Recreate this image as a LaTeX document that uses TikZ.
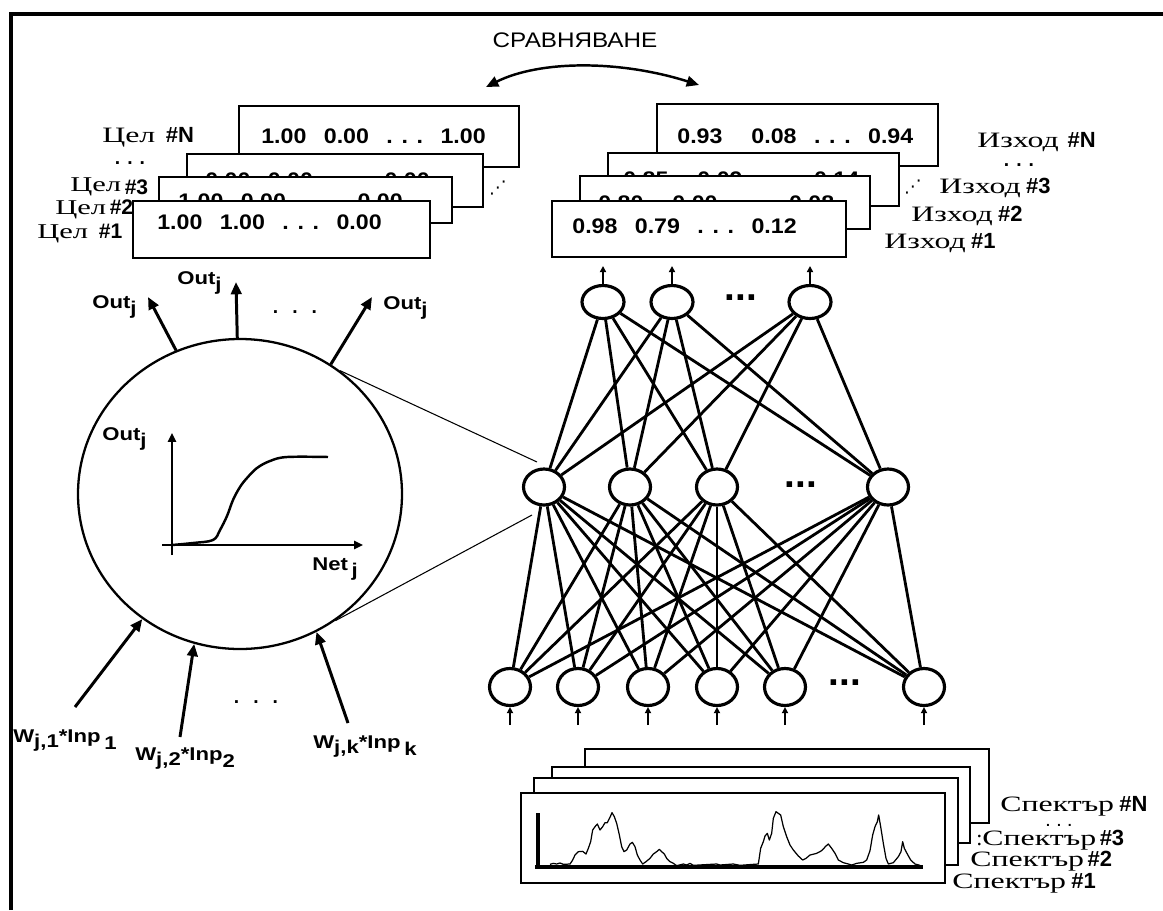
\documentclass[tikz,border=0pt]{standalone}
\usepackage{fontspec}
\usepackage{graphicx}
\setmainfont{Liberation Serif}
\setsansfont{Liberation Sans}
\newfontfamily\symfont{DejaVu Sans}
\usetikzlibrary{arrows.meta,shapes.geometric}

% serif label words, drawn wide
\newcommand\ser[1]{\scalebox{1.45}[1]{\rmfamily #1}}
% bold "#n" tag after a label word
\newcommand\hsh[1]{{\sffamily\bfseries\##1}}
% a row of values: first, second, dots, last
\newcommand\nums[4][9pt]{\scalebox{1.1}[1]{#2\hspace{#1}#3\hspace{9pt}.\hspace{4.5pt}.\hspace{4.5pt}.\hspace{9pt}#4}}
\newcommand\wide[2]{\scalebox{#1}[1]{#2}}
% white box given by its corners (x1,y1) (x2,y2) in pixel units
\newcommand\pbox[5]{\node[box, minimum width={(#4-#2)*0.02cm}, minimum height={(#5-#3)*0.02cm}] (#1) at ({(#2+#4)/2},{(#3+#5)/2}) {};}

\begin{document}
\begin{tikzpicture}[x=0.02cm,y=-0.02cm,
  box/.style={draw, fill=white, line width=1.3pt, rectangle, inner sep=0pt},
  num/.style={anchor=base west, inner sep=0pt, font=\sffamily\bfseries\fontsize{12}{14}\selectfont},
  lbl/.style={anchor=base west, inner sep=0pt, font=\fontsize{12.5}{14}\selectfont},
  slbl/.style={anchor=base west, inner sep=0pt, font=\fontsize{12}{13}\selectfont},
  outl/.style={anchor=base west, inner sep=0pt, font=\sffamily\bfseries\fontsize{10.5}{12}\selectfont},
  dots/.style={inner sep=0pt, font=\sffamily\bfseries\fontsize{11}{12}\selectfont},
  sdots/.style={inner sep=0pt, font=\sffamily\bfseries\fontsize{8}{9}\selectfont},
  bigdots/.style={inner sep=0pt, font=\sffamily\bfseries\fontsize{22}{24}\selectfont},
  unit/.style={ellipse, draw, fill=white, line width=1.8pt, inner sep=0pt,
               minimum width=0.82cm, minimum height=0.72cm},
  link/.style={line width=1.6pt},
  bigarrow/.style={line width=1.7pt, -{Triangle[length=7pt,width=6pt]}},
  tinyarrow/.style={line width=0.9pt, -{Triangle[length=3.5pt,width=3.5pt]}},
  axis/.style={line width=1.2pt, -{Triangle[length=5pt,width=4.5pt]}},
]
\useasboundingbox (0,0) rectangle (1163,910);

% frame
\draw[line width=2.3pt] (11,910) -- (11,14) -- (1163,14);

% comparison of targets and outputs
\node[anchor=base, inner sep=0pt] (title) at (575,47)
  {\wide{1.15}{\sffamily\fontsize{12}{14}\selectfont СРАВНЯВАНЕ}};
\coordinate (cmpL) at (486,87);
\coordinate (cmpR) at (699,85);
\draw[line width=1.4pt, {Triangle[length=7pt,width=6pt]}-{Triangle[length=7pt,width=6pt]}]
  (cmpL) .. controls (540,60) and (620,60) .. (cmpR);

% target vectors
\pbox{tgtN}{239}{106}{519}{167}
\node[num] at (261,143) {\nums{1.00}{0.00}{1.00}};
\pbox{tgt3}{187}{154}{483}{207}
\node[num] at (205,187) {\nums{0.00}{0.00}{0.00}};
\pbox{tgt2}{159}{177}{452}{223}
\node[num] at (178,208) {\nums{1.00}{0.00}{0.00}};
\pbox{tgt1}{133}{201}{430}{258}
\node[num] at (157,229) {\nums{1.00}{1.00}{0.00}};
\node[inner sep=0pt, font=\symfont\fontsize{10}{12}\selectfont] (tgtdd) at (498,188) {⋰};

\node[lbl] (ltN) at (102,142) {\ser{Цел}\hspace{6pt}\hsh{N}};
\node[dots] (ltd) at (130,163) {.\hspace{4pt}.\hspace{4pt}.};
\node[slbl] (lt3) at (70,191) {\ser{Цел}\hspace{2pt}\raisebox{-2pt}{\hsh{3}}};
\node[slbl] (lt2) at (55,214) {\ser{Цел}\hspace{2pt}\hsh{2}};
\node[slbl] (lt1) at (37,238) {\ser{Цел}\hspace{6pt}\hsh{1}};

% output vectors
\pbox{outN}{657}{104}{938}{166}
\node[num] at (677,143) {\nums[15pt]{0.93}{0.08}{0.94}};
\pbox{out3}{608}{153}{899}{206}
\node[num] at (623,186) {\nums[15pt]{0.85}{0.09}{0.14}};
\pbox{out2}{580}{176}{870}{229}
\node[num] at (598,210) {\nums[15pt]{0.80}{0.00}{0.08}};
\pbox{out1}{552}{201}{846}{257}
\node[num] at (572,233) {\nums{0.98}{0.79}{0.12}};
\node[inner sep=0pt, font=\symfont\fontsize{10}{12}\selectfont] (outdd) at (913,187) {⋰};

\node[lbl] (loN) at (977,147) {\ser{Изход}\hspace{5pt}\hsh{N}};
\node[dots] (lod) at (1019,165) {.\hspace{4pt}.\hspace{4pt}.};
\node[lbl] (lo3) at (939,193) {\ser{Изход}\hspace{3pt}\hsh{3}};
\node[lbl] (lo2) at (911,221) {\ser{Изход}\hspace{3pt}\hsh{2}};
\node[lbl] (lo1) at (884,248) {\ser{Изход}\hspace{3pt}\hsh{1}};

% single neuron
\node[ellipse, draw, line width=1.3pt, inner sep=0pt,
      minimum width=324*0.02cm, minimum height=310*0.02cm] (neuron) at (240,494) {};

\coordinate (outA) at (148,297);
\coordinate (outB) at (236,282);
\coordinate (outC) at (372,297);
\draw[bigarrow] (neuron.114) -- (outA);
\draw[bigarrow] (neuron.91.5) -- (outB);
\draw[bigarrow] (neuron.55.5) -- (outC);
\node[outl] (oA) at (92,308) {\wide{1.2}{Out\raisebox{-3.5pt}{j}}};
\node[outl] (oB) at (177,284) {\wide{1.2}{Out\raisebox{-3.5pt}{j}}};
\node[outl] (oC) at (383,309) {\wide{1.2}{Out\raisebox{-3.5pt}{j}}};
\node[dots] (odots) at (295,312) {.\hspace{8pt}.\hspace{8pt}.};

\coordinate (inA) at (75,707);
\coordinate (inB) at (180,737);
\coordinate (inC) at (348,723);
\draw[bigarrow] (inA) -- (neuron.232.5);
\draw[bigarrow] (inB) -- (neuron.253);
\draw[bigarrow] (inC) -- (neuron.299);
\node[outl] (wA) at (13,742) {\wide{1.2}{W\raisebox{-3pt}{j,1}*Inp\,\raisebox{-4pt}{1}}};
\node[outl] (wB) at (135,760) {\wide{1.2}{W\raisebox{-3pt}{j,2}*Inp\raisebox{-4pt}{2}}};
\node[outl] (wC) at (313,748) {\wide{1.2}{W\raisebox{-3pt}{j,k}*Inp\,\raisebox{-4pt}{k}}};
\node[dots] (idots) at (256,702) {.\hspace{8pt}.\hspace{8pt}.};

% transfer function inside the neuron
\coordinate (yB) at (172,555);
\coordinate (yT) at (172,433);
\coordinate (xL) at (162,545);
\coordinate (xR) at (363,545);
\draw[axis] (yB) -- (yT);
\draw[axis] (xL) -- (xR);
\draw[line width=1.4pt] plot[smooth, tension=0.6] coordinates
  {(172,545) (193,543) (213,540) (220,530) (227,516) (233,500) (240,487)
   (247,478) (257,468) (270,461) (287,457) (328,457)};
\node[outl] (yl) at (102,440) {\wide{1.2}{Out\raisebox{-3.5pt}{j}}};
\node[outl] (xl) at (312,570) {\wide{1.2}{Net\,\raisebox{-3.5pt}{j}}};

% network layers
\foreach \n/\x in {1/603, 2/672, 3/810}
  \node[unit, minimum width=0.84cm, minimum height=0.66cm] (nO\n) at (\x,302) {};
\foreach \n/\x in {1/544, 2/630, 3/717, 4/888}
  \node[unit] (nH\n) at (\x,487) {};
\foreach \n/\x in {1/510, 2/578, 3/648, 4/717, 5/785, 6/924}
  \node[unit, minimum height=0.74cm] (nI\n) at (\x,687) {};

\foreach \o in {1,2,3}
  \foreach \h in {1,...,4}
    \draw[link] (nO\o) -- (nH\h);
\foreach \h in {1,...,4}
  \foreach \i in {1,...,6}
    \draw[link] (nH\h) -- (nI\i);

\foreach \n/\x in {1/603, 2/672, 3/810} {
  \coordinate (oa\n) at (\x,266);
  \draw[tinyarrow] (nO\n.north) -- (oa\n);
}
\foreach \n/\x in {1/510, 2/578, 3/648, 4/717, 5/785, 6/924} {
  \coordinate (ia\n) at (\x,725);
  \draw[tinyarrow] (ia\n) -- (nI\n.south);
}
\node[bigdots] (d1) at (741,298) {...};
\node[bigdots] (d2) at (801,485) {...};
\node[bigdots] (d3) at (845,683) {...};

% zoom lines from the neuron to the network
\coordinate (zA) at (537,462);
\coordinate (zB) at (532,515);
\draw[line width=0.6pt] (neuron.51) -- (zA);
\draw[line width=0.6pt] (neuron.307) -- (zB);

% input spectra
\pbox{specN}{585}{749}{989}{823}
\pbox{spec3}{552}{767}{970}{843}
\pbox{spec2}{534}{778}{958}{865}
\pbox{spec1}{521}{793}{945}{883}
\coordinate (sx0) at (535,867);
\coordinate (sx1) at (923,867);
\coordinate (sy1) at (538,813);
\draw[line width=1.8pt] (sx0) -- (sx1);
\draw[line width=1.8pt] (538,868) -- (sy1);
\begin{scope}[shift={(520,780)}, xscale=1/3, yscale=1/3]
\draw[line width=0.7pt, line join=round] (90,253) -- (100,250) -- (110,252) -- (120,249) -- (130,253)
 -- (150,252) -- (158,240) -- (165,225) -- (175,215) -- (188,214) -- (198,222) -- (205,205)
 -- (212,185) -- (218,150) -- (225,140) -- (232,132) -- (240,150) -- (248,140) -- (255,128)
 -- (262,128) -- (270,112) -- (276,98) -- (283,110) -- (290,130) -- (297,160) -- (305,200)
 -- (312,215) -- (320,210) -- (330,192) -- (337,187) -- (345,200) -- (352,225) -- (360,240)
 -- (368,252) -- (378,245) -- (390,235) -- (400,222) -- (410,215) -- (418,208) -- (425,215)
 -- (433,222) -- (440,235) -- (450,245) -- (460,250) -- (470,257) -- (490,252) -- (500,255)
 -- (510,250) -- (520,256) -- (590,252) -- (600,255) -- (640,252) -- (660,256) -- (700,253)
 -- (715,252) -- (722,205) -- (730,185) -- (735,168) -- (742,160) -- (748,180) -- (755,160)
 -- (760,115) -- (768,95) -- (775,100) -- (782,105) -- (790,140) -- (800,170) -- (810,195)
 -- (820,210) -- (835,228) -- (848,240) -- (858,235) -- (870,225) -- (890,220) -- (905,212)
 -- (918,198) -- (925,192) -- (935,205) -- (945,220) -- (955,240) -- (970,248) -- (985,252)
 -- (995,255) -- (1010,250) -- (1030,247) -- (1040,240) -- (1050,212) -- (1058,165)
 -- (1065,140) -- (1072,125) -- (1076,105) -- (1082,140) -- (1090,190) -- (1098,235)
 -- (1105,252) -- (1120,248) -- (1135,230) -- (1143,215) -- (1148,185) -- (1153,205)
 -- (1162,222) -- (1172,240) -- (1185,252) -- (1200,256);
\end{scope}

\node[lbl] (lsN) at (1000,811) {\ser{Спектър}\hspace{3pt}\hsh{N}};
\node[sdots] (lsd) at (1059,825) {.\hspace{4pt}.\hspace{4pt}.};
\node[lbl] (ls3) at (976,845) {:\ser{Спектър}\hspace{2pt}\hsh{3}};
\node[lbl] (ls2) at (970,866) {\ser{Спектър}\hspace{2pt}\hsh{2}};
\node[lbl] (ls1) at (952,888) {\ser{Спектър}\hspace{3pt}\hsh{1}};
\end{tikzpicture}
\end{document}
